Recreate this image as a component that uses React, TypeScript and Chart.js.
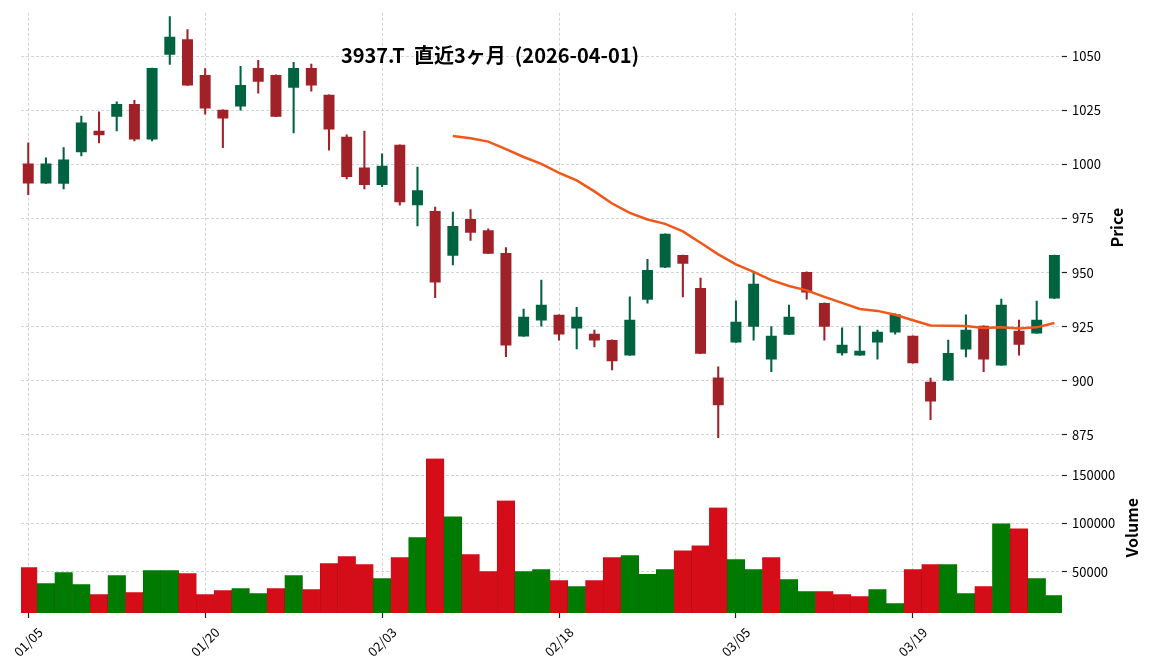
import React, { useEffect, useRef } from 'react';
import { Chart, registerables } from 'chart.js';

Chart.register(...registerables);

const FONT = '"Noto Sans CJK JP", "Noto Sans", sans-serif';

const titleText = '3937.T  直近3ヶ月  (2026-04-01)';
const dateLabels = ['01/05', '01/20', '02/03', '02/18', '03/05', '03/19'];
const dateTickIdx = [0, 10, 20, 30, 40, 50];
const priceTicks = [875, 900, 925, 950, 975, 1000, 1025, 1050];
const volumeTicks = [50000, 100000, 150000];

const opens = [
  1000.4, 991.2, 991.0, 1005.6, 1015.5, 1022.0, 1027.9, 1011.5, 1050.6, 1057.8,
  1041.3, 1025.2, 1026.7, 1044.5, 1041.3, 1035.4, 1044.5, 1032.1, 1012.8, 998.5,
  990.4, 1009.0, 981.1, 978.4, 957.8, 974.7, 969.6, 959.0, 920.5, 927.9,
  930.5, 924.2, 921.7, 918.9, 911.7, 937.5, 952.3, 958.1, 942.9, 901.5,
  917.7, 925.0, 909.9, 921.3, 950.3, 936.0, 912.7, 911.7, 917.7, 922.3,
  920.8, 899.6, 900.1, 914.5, 925.4, 907.1, 923.1, 921.9, 938.0,
];
const highs = [
  1009.9, 1003.0, 1007.7, 1022.3, 1024.3, 1028.9, 1029.6, 1044.5, 1068.2, 1062.3,
  1044.2, 1025.2, 1045.3, 1048.0, 1041.3, 1047.1, 1046.3, 1032.1, 1013.6, 1015.4,
  1004.8, 1009.0, 998.7, 980.2, 978.0, 979.1, 970.2, 961.5, 933.1, 946.5,
  930.5, 934.0, 923.4, 918.9, 938.8, 956.1, 967.9, 958.1, 947.4, 906.5,
  936.9, 950.1, 925.1, 935.0, 950.3, 936.0, 924.5, 925.3, 923.4, 931.0,
  920.8, 901.3, 918.8, 930.5, 925.4, 937.7, 928.0, 936.8, 958.1,
];
const lows = [
  986.0, 991.2, 988.7, 1003.9, 1009.9, 1015.4, 1010.8, 1010.8, 1046.2, 1036.4,
  1023.2, 1007.7, 1025.0, 1032.9, 1022.0, 1014.5, 1033.8, 1006.6, 993.3, 988.7,
  989.7, 981.1, 971.5, 938.4, 953.5, 964.9, 958.7, 911.1, 920.5, 925.3,
  918.8, 914.7, 915.6, 905.0, 911.7, 935.9, 952.3, 938.8, 912.5, 873.7,
  917.7, 918.8, 904.2, 921.3, 937.7, 918.8, 911.9, 911.7, 910.0, 921.6,
  908.1, 882.0, 900.1, 911.0, 904.2, 907.1, 911.9, 921.9, 938.0,
];
const closes = [
  991.2, 1000.4, 1002.2, 1019.3, 1013.4, 1027.9, 1011.5, 1044.5, 1058.9, 1036.4,
  1025.8, 1021.2, 1036.7, 1038.2, 1022.0, 1044.5, 1036.4, 1016.1, 994.1, 990.4,
  999.4, 982.5, 988.0, 945.4, 971.5, 968.4, 958.7, 916.3, 929.6, 935.1,
  921.4, 929.6, 918.6, 909.0, 928.2, 951.2, 967.9, 954.1, 912.5, 888.7,
  927.3, 944.8, 920.8, 929.6, 940.8, 925.0, 916.7, 913.9, 922.7, 930.8,
  908.1, 890.5, 912.8, 923.6, 909.8, 935.1, 916.7, 928.2, 958.1,
];
const volumes = [
  54460, 37870, 49270, 36830, 26460, 46160, 28530, 51340, 51340, 48230,
  26460, 30600, 32680, 27500, 32680, 46160, 31640, 58610, 65870, 57570,
  43050, 64830, 85640, 167500, 107360, 67940, 50300, 123950, 50300, 52370,
  40980, 34760, 40980, 64830, 66900, 47600, 52370, 72080, 77260, 116680,
  62760, 52370, 64830, 42000, 29590, 29590, 26460, 24390, 31640, 17130,
  52370, 57570, 57570, 27500, 34760, 100100, 94900, 43050, 25430,
];
const maStartIdx = 24;
const maValues = [
  1013.1, 1012.0, 1010.5, 1007.0, 1003.4, 1000.2, 996.1, 992.6, 987.5, 981.9,
  977.6, 974.5, 972.5, 969.0, 963.8, 958.4, 953.8, 950.3, 946.5, 943.8,
  941.8, 938.8, 936.0, 933.2, 932.3, 930.5, 928.0, 925.6, 925.4, 925.3,
  924.4, 924.7, 924.2, 924.7, 926.7,
];

const UP = '#006340';
const DOWN = '#a02128';
const VUP = '#007a00';
const VDOWN = '#d50d18';
const GRID = '#c8c8c8';

const textPlugin = {
  id: 'texts',
  afterDraw(chart: any) {
    const ctx = chart.ctx;
    const area = chart.chartArea;
    const xs = chart.scales.x;
    ctx.save();
    ctx.fillStyle = '#000';
    ctx.textAlign = 'center';
    ctx.textBaseline = 'middle';
    ctx.font = `13px ${FONT}`;
    dateTickIdx.forEach((idx, k) => {
      const px = xs.getPixelForValue(idx);
      ctx.save();
      ctx.translate(px, area.bottom + 29);
      ctx.rotate(-Math.PI / 4);
      ctx.fillText(dateLabels[k], 0, 0);
      ctx.restore();
    });
    ctx.font = `bold 20px ${FONT}`;
    ctx.fillText(titleText, 490, 55);
    ctx.font = `bold 16px ${FONT}`;
    const yp = chart.scales.y;
    const yv = chart.scales.yv;
    ctx.save();
    ctx.translate(1117, (yp.top + yp.bottom) / 2);
    ctx.rotate(-Math.PI / 2);
    ctx.fillText('Price', 0, 0);
    ctx.restore();
    ctx.save();
    ctx.translate(1132, (yv.top + yv.bottom) / 2);
    ctx.rotate(-Math.PI / 2);
    ctx.fillText('Volume', 0, 0);
    ctx.restore();
    ctx.restore();
  },
};

const gridOpts = {
  color: GRID,
  lineWidth: 0.8,
  offset: false,
  drawTicks: true,
  tickLength: 5,
  tickColor: '#222',
  tickWidth: 1.2,
};

export default function App() {
  const ref = useRef<HTMLCanvasElement | null>(null);
  useEffect(() => {
    if (!ref.current) return;
    const idx = opens.map((_, i) => i);
    const candleColors = idx.map((i) => (closes[i] >= opens[i] ? UP : DOWN));
    const volColors = idx.map((i) =>
      i === 0 ? (closes[0] >= opens[0] ? VUP : VDOWN) : closes[i] >= closes[i - 1] ? VUP : VDOWN
    );
    const volEdge = volColors.map((c) => (c === VUP ? '#006800' : '#b80b15'));
    const chart = new Chart(ref.current, {
      type: 'bar',
      data: {
        datasets: [
          {
            type: 'line',
            data: maValues.map((v, k) => ({ x: maStartIdx + k, y: v })),
            yAxisID: 'y',
            borderColor: '#f0571a',
            borderWidth: 2.5,
            pointRadius: 0,
            tension: 0,
            order: 0,
          } as any,
          {
            type: 'bar',
            data: idx.map((i) => ({ x: i, y: [opens[i], closes[i]] })),
            yAxisID: 'y',
            backgroundColor: candleColors,
            borderWidth: 0,
            borderSkipped: false,
            grouped: false,
            barPercentage: 0.62,
            categoryPercentage: 1,
            order: 1,
          } as any,
          {
            type: 'bar',
            data: idx.map((i) => ({ x: i, y: [lows[i], highs[i]] })),
            yAxisID: 'y',
            backgroundColor: candleColors,
            borderWidth: 0,
            borderSkipped: false,
            grouped: false,
            barThickness: 1.4,
            order: 2,
          } as any,
          {
            type: 'bar',
            data: idx.map((i) => ({ x: i, y: volumes[i] })),
            yAxisID: 'yv',
            backgroundColor: volColors,
            borderColor: volEdge,
            borderWidth: { left: 0.6, right: 0.6, top: 0, bottom: 0 },
            borderSkipped: false,
            grouped: false,
            barPercentage: 1,
            categoryPercentage: 1,
            order: 3,
          } as any,
        ],
      },
      options: {
        responsive: false,
        animation: false,
        devicePixelRatio: 1,
        layout: { padding: { left: 21, top: 11, right: 0, bottom: 0 } },
        plugins: { legend: { display: false }, tooltip: { enabled: false }, title: { display: false } },
        font: { family: FONT },
        scales: {
          x: {
            type: 'linear',
            position: 'bottom',
            offset: false,
            min: -0.41,
            max: 58.43,
            afterBuildTicks: (s: any) => {
              s.ticks = dateTickIdx.map((v) => ({ value: v }));
            },
            afterFit: (s: any) => {
              s.height = 57;
            },
            ticks: { display: false },
            grid: gridOpts,
            border: { display: false, dash: [3, 2] },
          },
          y: {
            type: 'linear',
            position: 'right',
            stack: 'panels',
            stackWeight: 431,
            min: 871.5,
            max: 1070,
            afterBuildTicks: (s: any) => {
              s.ticks = priceTicks.map((v) => ({ value: v }));
            },
            afterFit: (s: any) => {
              s.width = 90;
            },
            ticks: {
              color: '#000',
              padding: 5,
              font: { family: FONT, size: 13 },
              callback: (v: any) => String(v),
            },
            grid: gridOpts,
            border: { display: false, dash: [3, 2] },
          },
          yv: {
            type: 'linear',
            position: 'right',
            stack: 'panels',
            stackWeight: 171,
            min: 7000,
            max: 184200,
            afterBuildTicks: (s: any) => {
              s.ticks = volumeTicks.map((v) => ({ value: v }));
            },
            afterFit: (s: any) => {
              s.width = 90;
            },
            ticks: {
              color: '#000',
              padding: 5,
              font: { family: FONT, size: 13 },
              callback: (v: any) => String(v),
            },
            grid: gridOpts,
            border: { display: false, dash: [3, 2] },
          },
        },
      } as any,
      plugins: [textPlugin],
    });
    return () => chart.destroy();
  }, []);
  return (
    <div style={{ position: 'fixed', left: 0, top: 0, width: 1152, height: 670, background: '#fff' }}>
      <canvas ref={ref} width={1152} height={670} style={{ width: 1152, height: 670, display: 'block' }} />
    </div>
  );
}
